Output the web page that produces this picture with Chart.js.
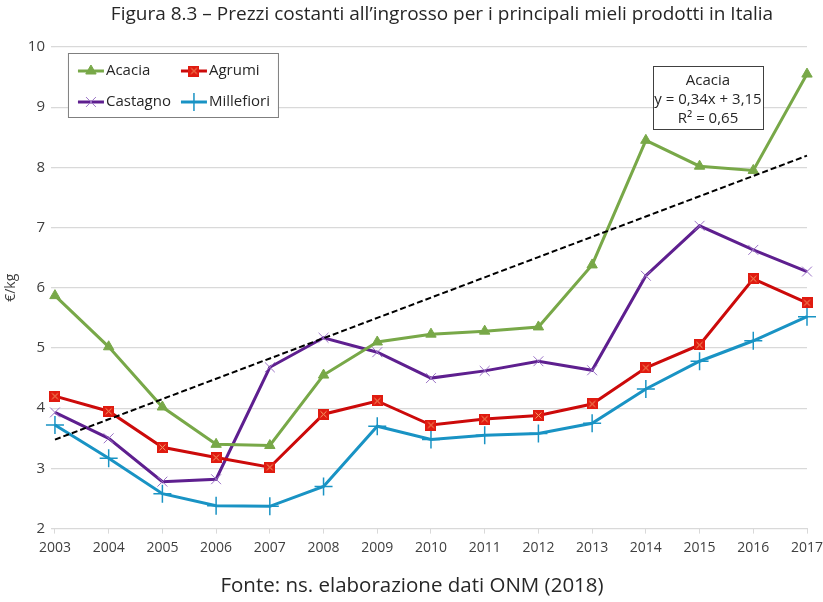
<!DOCTYPE html>
<html>
<head>
<meta charset="utf-8">
<script src="https://cdn.jsdelivr.net/npm/chart.js@4"></script>
<style>
  html, body { margin: 0; padding: 0; background: #fff; }
  #wrap { width: 823px; height: 602px; }
</style>
</head>
<body>
<div id="wrap"><canvas id="chart" width="823" height="602"></canvas></div>
<script>
// anni e prezzi (euro/kg)
const years = ['2003','2004','2005','2006','2007','2008','2009','2010','2011','2012','2013','2014','2015','2016','2017'];
const acacia =     [5.87, 5.02, 4.02, 3.40, 3.38, 4.55, 5.10, 5.23, 5.28, 5.35, 6.38, 8.45, 8.02, 7.95, 9.55];
const agrumi =     [4.20, 3.95, 3.35, 3.18, 3.02, 3.90, 4.12, 3.72, 3.82, 3.88, 4.07, 4.67, 5.05, 6.15, 5.75];
const castagno =   [3.93, 3.50, 2.78, 2.82, 4.68, 5.17, 4.93, 4.50, 4.62, 4.78, 4.63, 6.20, 7.03, 6.63, 6.27];
const millefiori = [3.72, 3.17, 2.58, 2.38, 2.37, 2.70, 3.70, 3.48, 3.55, 3.58, 3.75, 4.32, 4.78, 5.12, 5.52];
const trendText = ['Acacia', 'y = 0,34x + 3,15', 'R\u00B2 = 0,65'];
const titleText = 'Figura 8.3 \u2013 Prezzi costanti all\u2019ingrosso per i principali mieli prodotti in Italia';

// retta di tendenza lineare (minimi quadrati) sui dati Acacia
const n = acacia.length;
const xm = (n + 1) / 2;
const ym = acacia.reduce((a, b) => a + b, 0) / n;
let sxy = 0, sxx = 0;
acacia.forEach((v, i) => { sxy += (i + 1 - xm) * (v - ym); sxx += (i + 1 - xm) ** 2; });
const slope = sxy / sxx;
const icpt = ym - slope * xm;
const trend = acacia.map((v, i) => icpt + slope * (i + 1));

const FONT = "'Open Sans', sans-serif";

// marker Agrumi: quadrato rosso con x
function squareX() {
  const c = document.createElement('canvas');
  c.width = 11; c.height = 11;
  const g = c.getContext('2d');
  g.fillStyle = '#e01b10';
  g.fillRect(0, 0, 11, 11);
  g.strokeStyle = '#f5a36b';
  g.lineWidth = 1;
  g.beginPath();
  g.moveTo(2.5, 2.5); g.lineTo(8.5, 8.5);
  g.moveTo(8.5, 2.5); g.lineTo(2.5, 8.5);
  g.stroke();
  return c;
}
const sqMarker = squareX();

const boxes = {
  id: 'boxes',
  afterDraw(chart) {
    const ctx = chart.ctx;
    const a = chart.chartArea;
    ctx.save();
    // titolo (spostato a destra come nell'originale)
    ctx.font = '19px ' + FONT;
    ctx.fillStyle = '#262626';
    ctx.textAlign = 'center';
    ctx.textBaseline = 'middle';
    ctx.fillText(titleText, 442, 15);
    ctx.textAlign = 'left';
    // legenda
    const lx = a.left + 13, ly = a.top + 6;
    ctx.fillStyle = '#fff';
    ctx.fillRect(lx, ly, 210, 64);
    ctx.strokeStyle = '#7f7f7f';
    ctx.lineWidth = 1;
    ctx.strokeRect(lx + 0.5, ly + 0.5, 210, 64);
    const pos = [[lx + 10, ly + 18], [lx + 113, ly + 18], [lx + 10, ly + 49], [lx + 113, ly + 49]];
    ctx.font = '15px ' + FONT;
    chart.data.datasets.slice(0, 4).forEach((ds, i) => {
      const [x, y] = pos[i];
      ctx.strokeStyle = ds.borderColor;
      ctx.lineWidth = 3;
      ctx.beginPath(); ctx.moveTo(x, y); ctx.lineTo(x + 26, y); ctx.stroke();
      ctx.fillStyle = ds.backgroundColor;
      ctx.strokeStyle = ds.pointBorderColor || ds.borderColor;
      ctx.lineWidth = ds.pointBorderWidth;
      Chart.helpers.drawPoint(ctx, {
        pointStyle: ds.pointStyle, radius: ds.pointRadius,
        borderWidth: ds.pointBorderWidth, rotation: 0
      }, x + 13, y);
      ctx.fillStyle = '#262626';
      ctx.fillText(ds.label, x + 28, y);
    });
    // etichetta della tendenza
    const bx = 653, by = a.top + 19;
    ctx.fillStyle = '#fff';
    ctx.fillRect(bx, by, 110, 63);
    ctx.strokeStyle = '#404040';
    ctx.lineWidth = 1;
    ctx.strokeRect(bx + 0.5, by + 0.5, 110, 63);
    ctx.fillStyle = '#262626';
    ctx.textAlign = 'center';
    trendText.forEach((t, i) => ctx.fillText(t, bx + 55, by + 15 + i * 19));
    ctx.restore();
  }
};

new Chart(document.getElementById('chart'), {
  type: 'line',
  data: {
    labels: years,
    datasets: [
      { label: 'Acacia', data: acacia, borderColor: '#78a848', backgroundColor: '#78a848',
        borderWidth: 3, pointStyle: 'triangle', pointRadius: 6, pointBorderWidth: 1 },
      { label: 'Agrumi', data: agrumi, borderColor: '#cc0a0a', backgroundColor: '#cc0a0a',
        borderWidth: 3, pointStyle: sqMarker, pointRadius: 5, pointBorderWidth: 1 },
      { label: 'Castagno', data: castagno, borderColor: '#5e1f8f', backgroundColor: '#9b73c6',
        pointBorderColor: '#9b73c6', borderWidth: 3, pointStyle: 'crossRot', pointRadius: 7, pointBorderWidth: 1 },
      { label: 'Millefiori', data: millefiori, borderColor: '#1993c4', backgroundColor: '#1993c4',
        borderWidth: 3, pointStyle: 'cross', pointRadius: 9, pointBorderWidth: 1.5 },
      { label: 'Tendenza', data: trend, borderColor: '#000', borderWidth: 2, borderDash: [6, 3],
        pointRadius: 0, order: -1 }
    ]
  },
  options: {
    responsive: false,
    animation: false,
    layout: { autoPadding: false, padding: { left: 1, right: 0, top: 47, bottom: 0 } },
    plugins: {
      legend: { display: false },
      tooltip: { enabled: false },
      title: { display: false },
      subtitle: {
        display: true, position: 'bottom',
        text: 'Fonte: ns. elaborazione dati ONM (2018)',
        color: '#262626', font: { family: FONT, size: 20.5, weight: 'normal' },
        padding: { top: 11, bottom: 4 }
      }
    },
    scales: {
      x: {
        offset: false,
        afterFit(s) { s.paddingRight = 16; },
        grid: { display: true, drawOnChartArea: false, drawTicks: true, tickLength: 5, color: '#d9d9d9' },
        border: { display: true, color: '#d9d9d9' },
        ticks: { color: '#404040', font: { family: FONT, size: 14 }, padding: 6, maxRotation: 0 }
      },
      y: {
        min: 2, max: 10,
        title: { display: true, text: '\u20AC/kg', color: '#404040', font: { family: FONT, size: 14 }, padding: 2 },
        grid: { color: '#d9d9d9', lineWidth: 1.3, drawTicks: true, tickLength: 4 },
        border: { display: false },
        ticks: { stepSize: 1, color: '#404040', font: { family: FONT, size: 15 }, padding: 6 }
      }
    }
  },
  plugins: [boxes]
});
</script>
</body>
</html>
